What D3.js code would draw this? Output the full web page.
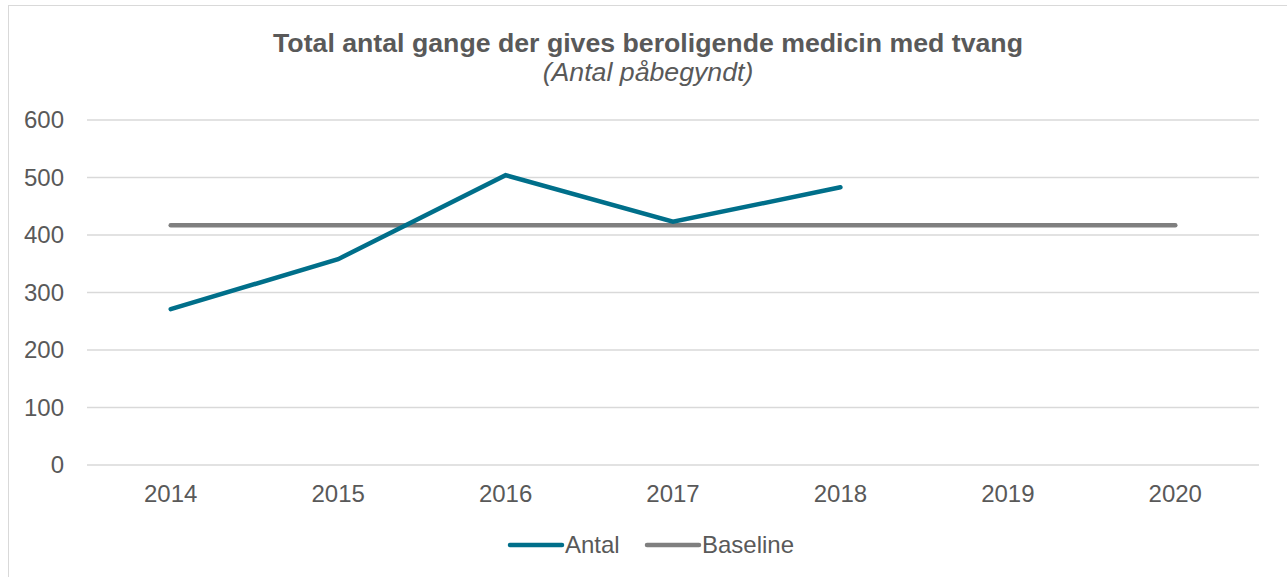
<!DOCTYPE html>
<meta charset="utf-8">
<script src="https://d3js.org/d3.v7.min.js"></script>
<style>
    body { margin: 0; background: #fff; }
    text { font-family: "Liberation Sans", Arial, sans-serif; fill: #595959; }
</style>
<div id="vis"></div>
<script>
    // data
    var years = ["2014", "2015", "2016", "2017", "2018", "2019", "2020"];
    var antal = [271, 358, 504, 423, 483, null, null];
    var baseline = [417, 417, 417, 417, 417, 417, 417];
    var yTicks = [0, 100, 200, 300, 400, 500, 600];

    var W = 1287, H = 577;
    var mgn = { top: 120, rgt: 28, btm: 112, lft: 87 },
        wid = W - mgn.lft - mgn.rgt,
        hgt = H - mgn.top - mgn.btm;

    var root = d3.select("#vis").append("svg")
        .attr("width", W)
        .attr("height", H);

    // chart frame
    root.append("rect")
        .attr("x", 8.5).attr("y", 5.5)
        .attr("width", W + 10).attr("height", H + 10)
        .attr("fill", "none")
        .attr("stroke", "#d9d9d9")
        .attr("stroke-width", 1);

    // titles
    root.append("text")
        .attr("x", 648).attr("y", 52)
        .attr("text-anchor", "middle")
        .style("font-size", "26.7px")
        .style("font-weight", "bold")
        .text("Total antal gange der gives beroligende medicin med tvang");
    root.append("text")
        .attr("x", 648).attr("y", 81)
        .attr("text-anchor", "middle")
        .style("font-size", "26.7px")
        .style("font-style", "italic")
        .text("(Antal påbegyndt)");

    var svg = root.append("g")
        .attr("transform", "translate(" + mgn.lft + "," + mgn.top + ")");

    var x = d3.scalePoint().domain(years).range([0, wid]).padding(0.5);
    var y = d3.scaleLinear().domain([0, 600]).range([hgt, 0]);

    // gridlines
    svg.append("g")
        .selectAll("line")
        .data(yTicks)
        .enter().append("line")
        .attr("x1", 0).attr("x2", wid)
        .attr("y1", function (d) { return y(d); })
        .attr("y2", function (d) { return y(d); })
        .attr("stroke", "#d9d9d9")
        .attr("stroke-width", 1.3);

    // y labels
    svg.append("g")
        .selectAll("text")
        .data(yTicks)
        .enter().append("text")
        .attr("x", -23)
        .attr("y", function (d) { return y(d); })
        .attr("dy", "0.35em")
        .attr("text-anchor", "end")
        .style("font-size", "24px")
        .text(function (d) { return d; });

    // x labels
    svg.append("g")
        .selectAll("text")
        .data(years)
        .enter().append("text")
        .attr("x", function (d) { return x(d); })
        .attr("y", hgt + 37)
        .attr("text-anchor", "middle")
        .style("font-size", "24px")
        .text(function (d) { return d; });

    var line = d3.line()
        .defined(function (d) { return d[1] != null; })
        .x(function (d) { return x(d[0]); })
        .y(function (d) { return y(d[1]); });

    svg.append("path")
        .datum(years.map(function (yr, i) { return [yr, baseline[i]]; }))
        .attr("d", line)
        .attr("fill", "none")
        .attr("stroke", "#7f7f7f")
        .attr("stroke-width", 4.5)
        .attr("stroke-linecap", "round");

    svg.append("path")
        .datum(years.map(function (yr, i) { return [yr, antal[i]]; }))
        .attr("d", line)
        .attr("fill", "none")
        .attr("stroke", "#006f8a")
        .attr("stroke-width", 4.5)
        .attr("stroke-linecap", "round")
        .attr("stroke-linejoin", "miter");

    // legend
    var leg = [
        { name: "Antal", clr: "#006f8a", x: 510 },
        { name: "Baseline", clr: "#7f7f7f", x: 647 }
    ];
    var lg = root.append("g").selectAll("g").data(leg).enter().append("g")
        .attr("transform", function (d) { return "translate(" + d.x + ",545)"; });
    lg.append("line")
        .attr("x1", 0).attr("x2", 52)
        .attr("stroke", function (d) { return d.clr; })
        .attr("stroke-width", 4.5)
        .attr("stroke-linecap", "round");
    lg.append("text")
        .attr("x", 55).attr("dy", "0.35em")
        .style("font-size", "24px")
        .text(function (d) { return d.name; });
</script>
